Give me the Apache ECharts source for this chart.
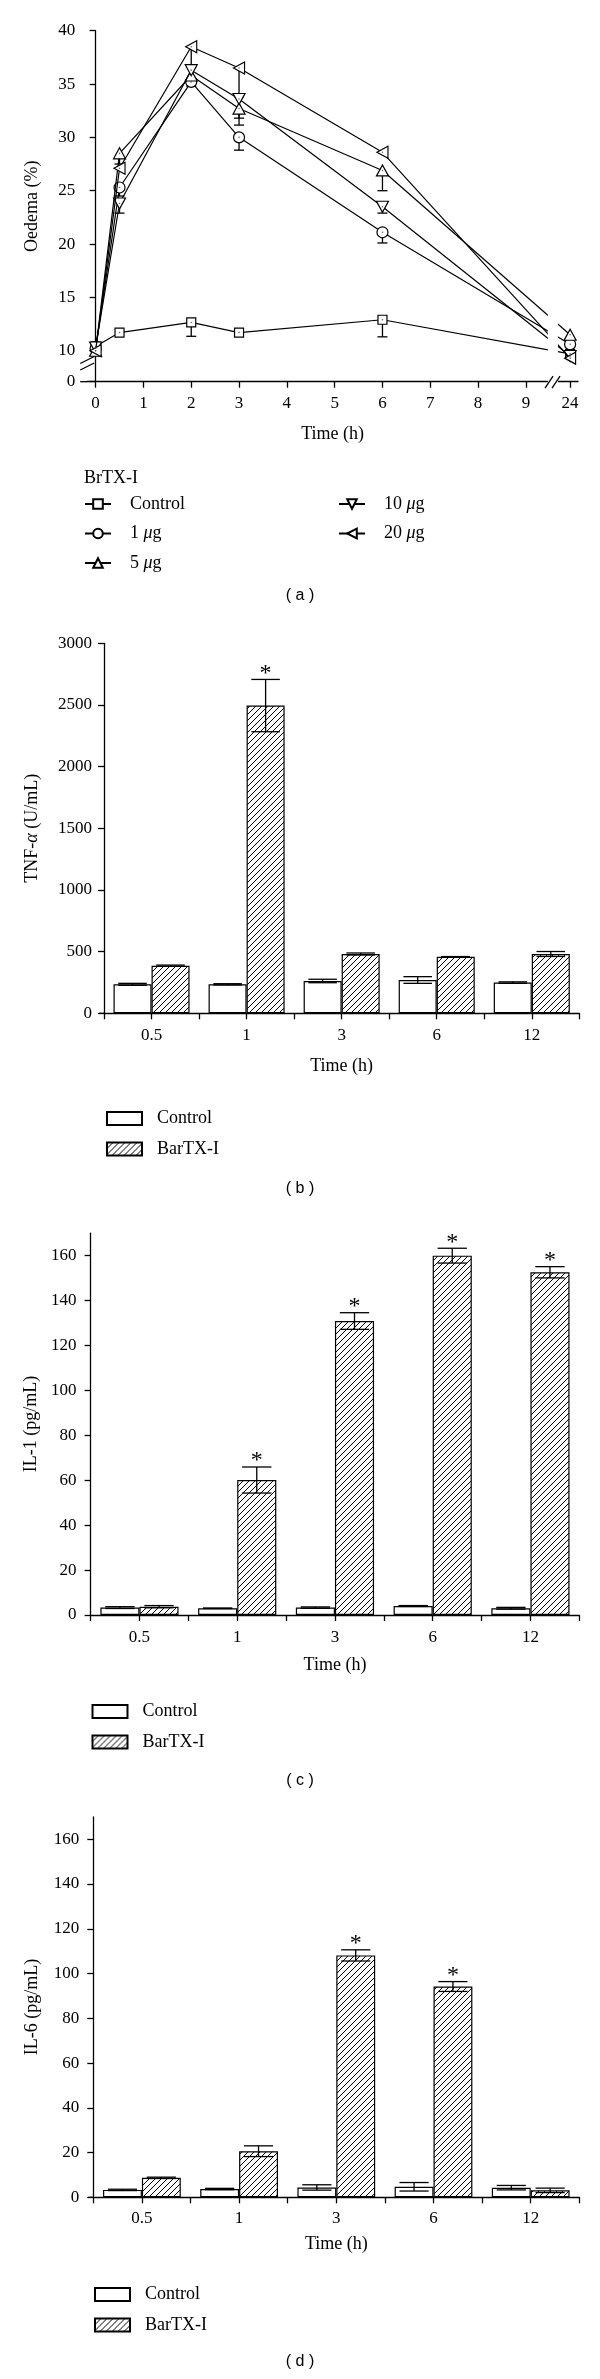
<!DOCTYPE html>
<html><head><meta charset="utf-8">
<script src="https://cdn.jsdelivr.net/npm/echarts@6.0.0/dist/echarts.min.js"></script>
<style>
html,body{margin:0;padding:0;background:#fff;}
.p{position:absolute;left:0;width:600px;}
</style></head>
<body>
<div id="a" class="p" style="top:0;height:620px"></div>
<div id="b" class="p" style="top:620px;height:600px"></div>
<div id="c" class="p" style="top:1220px;height:580px"></div>
<div id="d" class="p" style="top:1800px;height:579px"></div>
<script>
// ---------------- DATA ----------------
// Panel (a): oedema (%) over time
const oedemaHours = [0, 0.5, 2, 3, 6, 24];
const oedemaTickHours = [0, 1, 2, 3, 4, 5, 6, 7, 8, 9, 24];
const oedemaYTicks = [0, 10, 15, 20, 25, 30, 35, 40];
const oedemaNames = ['Control', '1 μg', '5 μg', '10 μg', '20 μg'];
const oedemaControl = [10.4, 11.7, 12.65, 11.7, 12.9, 9.7];
const oedema1ug     = [10.2, 25.3, 35.2, 30.0, 21.1, 10.6];
const oedema5ug     = [10.0, 28.5, 35.8, 32.7, 26.9, 11.5];
const oedema10ug    = [10.3, 23.8, 36.3, 33.6, 23.5, 9.5];
const oedema20ug    = [10.0, 27.1, 38.5, 36.5, 28.6, 9.3];
// one-sided SEM (negative = drawn downward)
const errControl = [0, 0, -1.3, 0, -1.6, 0];
const err1ug     = [0, -0.8, -0.4, -1.2, -1.0, 0];
const err5ug     = [0, -1.0, 0, -1.55, -1.9, 0];
const err10ug    = [0, -0.9, 0, -1.8, -0.6, 0];
const err20ug    = [0, 0, -1.9, -2.7, 0, 0];

// Panels (b)-(d): cytokines
const cytokineTimes = ['0.5', '1', '3', '6', '12'];
const tnfTicks = [0, 500, 1000, 1500, 2000, 2500, 3000];
const tnfControl = [235, 235, 262, 270, 249];
const tnfControlErr = [8, 5, 14, 27, 6];
const tnfBarTX = [386, 2495, 481, 459, 481];
const tnfBarTXErr = [5, 212, 8, 1, 20];
const tnfSig = [0, 1, 0, 0, 0];

const ilTicks = [0, 20, 40, 60, 80, 100, 120, 140, 160];
const il1Control = [3.3, 3.0, 3.3, 4.0, 3.0];
const il1ControlErr = [0.4, 0.1, 0.3, 0.2, 0.4];
const il1BarTX = [3.7, 60.1, 130.9, 160.0, 152.6];
const il1BarTXErr = [0.5, 5.8, 3.7, 3.3, 2.5];
const il1Sig = [0, 1, 1, 1, 1];

const il6Control = [3.3, 3.7, 4.4, 4.7, 4.3];
const il6ControlErr = [0.3, 0.3, 1.2, 1.9, 1.0];
const il6BarTX = [8.7, 20.6, 108.1, 94.2, 3.1];
const il6BarTXErr = [0.3, 2.4, 2.5, 2.2, 1.0];
const il6Sig = [0, 0, 1, 1, 0];

// ---------------- STYLE ----------------
const SERIF = '"Liberation Serif", "Times New Roman", serif';
const SANS = '"Liberation Sans", Arial, sans-serif';
const LW = 1.3;
const axisLine = {show: true, lineStyle: {color: '#000', width: LW}};
const axisTickStyle = {color: '#000', width: LW};
const TICK_FS = 17, NAME_FS = 18, LEG_FS = 18;

// broken time axis: 24 h drawn just after 9 h
const POS_24 = 9.925;
function timePos(h) { return h > 9.5 ? POS_24 : h; }
// broken oedema axis: 0 drawn just below 10
const POS_Y0 = 7.094;
function oedemaPos(v) { return v < 5 ? POS_Y0 : v; }

function muFormatter(name) {
  const m = name.match(/^(\d+) μg$/);
  return m ? m[1] + ' {i|μ}g' : name;
}

// ---------------- PANEL A ----------------
const chartA = echarts.init(document.getElementById('a'));
const oedemaValues = [oedemaControl, oedema1ug, oedema5ug, oedema10ug, oedema20ug];
const oedemaErrs = [errControl, err1ug, err5ug, err10ug, err20ug];
const oedemaSymbols = [
  {symbol: 'rect', size: [9, 9]},
  {symbol: 'circle', size: 11},
  {symbol: 'triangle', size: [12, 11]},
  {symbol: 'path://M0,0 L10,0 L5,9 Z', size: [12, 11]},
  {symbol: 'path://M9,0 L9,10 L0,5 Z', size: [11, 12]}
];
const seriesA = [];
oedemaNames.forEach((name, k) => {
  seriesA.push({
    name: name, type: 'line',
    data: oedemaHours.map((h, i) => [timePos(h), oedemaValues[k][i]]),
    symbol: oedemaSymbols[k].symbol, symbolSize: oedemaSymbols[k].size,
    showAllSymbol: true,
    itemStyle: {color: '#fff', borderColor: '#000', borderWidth: 1.2},
    lineStyle: {color: '#000', width: 1.2},
    z: 3 + k, clip: false
  });
});
oedemaNames.forEach((name, k) => {
  seriesA.push({
    type: 'custom', coordinateSystem: 'cartesian2d', z: 1, silent: true,
    data: oedemaHours.map((h, i) => [timePos(h), oedemaValues[k][i], oedemaErrs[k][i]]),
    encode: {x: 0, y: 1},
    renderItem: function (params, api) {
      const e = api.value(2);
      if (!e) return null;
      const p0 = api.coord([api.value(0), api.value(1)]);
      const p1 = api.coord([api.value(0), api.value(1) + e]);
      const st = {stroke: '#000', lineWidth: LW};
      return {type: 'group', children: [
        {type: 'line', shape: {x1: p0[0], y1: p0[1], x2: p1[0], y2: p1[1]}, style: st},
        {type: 'line', shape: {x1: p1[0] - 5, y1: p1[1], x2: p1[0] + 5, y2: p1[1]}, style: st}
      ]};
    }
  });
});
seriesA.push({
  type: 'scatter', silent: true, z: 20, symbolSize: 1.6,
  itemStyle: {color: '#444'},
  data: oedemaValues.flatMap(vals => oedemaHours.map((h, i) => [timePos(h), vals[i]]))
});

const legendText = {color: '#000', fontFamily: SERIF, fontSize: LEG_FS, lineHeight: 14, padding: [0, 0, 0, 14],
  rich: {i: {fontStyle: 'italic', fontFamily: SERIF, fontSize: LEG_FS, lineHeight: 14, color: '#000'}}};

chartA.setOption({
  animation: false,
  grid: {left: 87.2, right: 22, top: 30.7, bottom: 620 - 381.7},
  xAxis: {
    type: 'value', min: -0.176, max: 10.09,
    axisLine: axisLine, splitLine: {show: false},
    axisTick: {show: true, length: 6, lineStyle: axisTickStyle, customValues: oedemaTickHours.map(timePos)},
    axisLabel: {color: '#000', fontFamily: SERIF, fontSize: TICK_FS, margin: 13,
      customValues: oedemaTickHours.map(timePos),
      formatter: v => String(oedemaTickHours[oedemaTickHours.map(timePos).findIndex(p => Math.abs(p - v) < 1e-6)])},
    name: 'Time (h)', nameLocation: 'middle', nameGap: 44,
    nameTextStyle: {color: '#000', fontFamily: SERIF, fontSize: NAME_FS}
  },
  yAxis: {
    type: 'value', min: POS_Y0, max: 40,
    axisLine: axisLine, splitLine: {show: false},
    axisTick: {show: true, length: 6, lineStyle: axisTickStyle, customValues: oedemaYTicks.map(oedemaPos)},
    axisLabel: {color: '#000', fontFamily: SERIF, fontSize: TICK_FS, margin: 12,
      customValues: oedemaYTicks.map(oedemaPos),
      formatter: v => String(oedemaYTicks[oedemaYTicks.map(oedemaPos).findIndex(p => Math.abs(p - v) < 1e-6)])},
    name: 'Oedema (%)', nameLocation: 'middle', nameGap: 46,
    nameTextStyle: {color: '#000', fontFamily: SERIF, fontSize: NAME_FS}
  },
  legend: [
    {data: oedemaNames.slice(0, 3), orient: 'vertical', left: 84, top: 495, padding: 0,
      itemWidth: 26, itemHeight: 12, itemGap: 11.5, formatter: muFormatter, textStyle: legendText, selectedMode: false},
    {data: oedemaNames.slice(3), orient: 'vertical', left: 338, top: 495, padding: 0,
      itemWidth: 26, itemHeight: 12, itemGap: 11.5, formatter: muFormatter, textStyle: legendText, selectedMode: false}
  ],
  series: seriesA
});

(function () {
  const px = (x, y) => chartA.convertToPixel({gridIndex: 0}, [x, y]);
  const axisY = px(0, POS_Y0)[1];
  const topY = px(0, 40)[1];
  const gx0 = px(9.46, 20)[0], gx1 = px(9.67, 20)[0];
  const s1 = px(9.40, 20)[0];
  const ax = px(-0.176, 20)[0];
  const yb = px(0, 8.85)[1];
  const st = {stroke: '#000', lineWidth: LW};
  chartA.setOption({graphic: [
    {type: 'line', z: 99, shape: {x1: ax - 7, y1: axisY, x2: ax, y2: axisY}, style: st},
    {type: 'rect', z: 100, shape: {x: gx0, y: topY - 10, width: gx1 - gx0, height: axisY - topY + 12}, style: {fill: '#fff'}},
    {type: 'line', z: 101, shape: {x1: s1, y1: axisY + 6.5, x2: s1 + 8, y2: axisY - 5.5}, style: st},
    {type: 'line', z: 101, shape: {x1: s1 + 7, y1: axisY + 6.5, x2: s1 + 15, y2: axisY - 5.5}, style: st},
    {type: 'rect', z: 100, shape: {x: ax - 3, y: yb - 3, width: 6, height: 6.5}, style: {fill: '#fff'}},
    {type: 'line', z: 101, shape: {x1: ax - 7, y1: yb + 0.5, x2: ax + 7, y2: yb - 6.5}, style: st},
    {type: 'line', z: 101, shape: {x1: ax - 7, y1: yb + 7, x2: ax + 7, y2: yb}, style: st},
    {type: 'text', z: 101, left: 84, top: 469, style: {text: 'BrTX-I', fill: '#000', font: LEG_FS + 'px ' + SERIF}},
    {type: 'text', z: 101, left: 'center', top: 588, style: {text: '( a )', fill: '#000', font: '16px ' + SANS}}
  ]});
})();

// ---------------- BAR PANELS ----------------
function makeHatch() {
  const c = document.createElement('canvas');
  c.width = 6; c.height = 6;
  const g = c.getContext('2d');
  g.fillStyle = '#fff'; g.fillRect(0, 0, 6, 6);
  g.strokeStyle = '#000'; g.lineWidth = 1;
  g.beginPath();
  g.moveTo(0, 6); g.lineTo(6, 0);
  g.moveTo(-3, 3); g.lineTo(3, -3);
  g.moveTo(3, 9); g.lineTo(9, 3);
  g.stroke();
  return c;
}
const hatch = makeHatch();

function barPanel(id, cfg) {
  const chart = echarts.init(document.getElementById(id));
  const errData = [];
  cfg.control.forEach((v, i) => errData.push([i, v, cfg.controlErr[i], -1, 0]));
  cfg.bartx.forEach((v, i) => errData.push([i, v, cfg.bartxErr[i], 1, cfg.sig[i]]));
  const labelFmt = {color: '#000', fontFamily: SERIF, fontSize: TICK_FS};
  chart.setOption({
    animation: false,
    grid: cfg.grid,
    xAxis: [
      {type: 'category', data: cytokineTimes, axisLine: axisLine,
        axisTick: {show: true, interval: 0, length: 6, lineStyle: axisTickStyle},
        axisLabel: Object.assign({margin: cfg.xMargin, interval: 0}, labelFmt),
        name: 'Time (h)', nameLocation: 'middle', nameGap: cfg.xNameGap,
        nameTextStyle: {color: '#000', fontFamily: SERIF, fontSize: NAME_FS}},
      {type: 'category', data: cytokineTimes, position: 'bottom', axisLine: {show: false},
        axisTick: {show: true, alignWithLabel: true, interval: 0, length: 6, lineStyle: axisTickStyle},
        axisLabel: {show: false}}
    ],
    yAxis: {
      type: 'value', min: 0, max: cfg.max,
      axisLine: axisLine, splitLine: {show: false},
      axisTick: {show: true, length: 6, lineStyle: axisTickStyle, customValues: cfg.ticks},
      axisLabel: Object.assign({margin: cfg.yMargin, customValues: cfg.ticks, formatter: v => String(v)}, labelFmt),
      name: cfg.yName, nameLocation: 'middle', nameGap: cfg.yNameGap,
      nameTextStyle: {color: '#000', fontFamily: SERIF, fontSize: NAME_FS,
        rich: {i: {fontStyle: 'italic', fontFamily: SERIF, fontSize: NAME_FS, color: '#000'}}}
    },
    legend: {
      data: ['Control', 'BarTX-I'], orient: 'vertical', left: cfg.legendLeft, top: cfg.legendTop, padding: 0,
      itemWidth: 35, itemHeight: 13, itemGap: 12.5, icon: 'rect', selectedMode: false,
      textStyle: {color: '#000', fontFamily: SERIF, fontSize: LEG_FS, lineHeight: 14, padding: [0, 0, 0, 10]}
    },
    series: [
      {name: 'Control', type: 'bar', data: cfg.control, barGap: '0%', barCategoryGap: '20%',
        itemStyle: {color: '#fff', borderColor: '#000', borderWidth: 1.2}},
      {name: 'BarTX-I', type: 'bar', data: cfg.bartx, barGap: '0%', barCategoryGap: '20%',
        itemStyle: {color: {image: hatch, repeat: 'repeat'}, borderColor: '#000', borderWidth: 1.2}},
      {type: 'custom', z: 5, silent: true, data: errData, encode: {x: 0, y: 1},
        renderItem: function (params, api) {
          const cat = api.value(0), val = api.value(1), err = api.value(2), side = api.value(3), sig = api.value(4);
          const c = api.coord([cat, val]);
          const bw = api.size([1, 0])[0];
          const x = c[0] + side * bw * 0.2;
          const yT = api.coord([cat, val + err])[1];
          const yB = api.coord([cat, val - err])[1];
          const cw = bw * 0.3;
          const st = {stroke: '#000', lineWidth: LW};
          const ch = [
            {type: 'line', shape: {x1: x, y1: yT, x2: x, y2: yB}, style: st},
            {type: 'line', shape: {x1: x - cw / 2, y1: yT, x2: x + cw / 2, y2: yT}, style: st},
            {type: 'line', shape: {x1: x - cw / 2, y1: yB, x2: x + cw / 2, y2: yB}, style: st}
          ];
          if (sig) ch.push({type: 'text', style: {text: '*', x: x, y: yT - 6, align: 'center',
            verticalAlign: 'middle', fontSize: 24, fontFamily: SERIF, fill: '#000'}});
          return {type: 'group', children: ch};
        }}
    ],
    graphic: [
      {type: 'text', left: 'center', top: cfg.tagTop,
        style: {text: cfg.tag, fill: '#000', font: '16px ' + SANS}},
      {type: 'line', z: 99, shape: {x1: cfg.grid.left - cfg.axisExt, y1: cfg.height - cfg.grid.bottom,
        x2: cfg.grid.left, y2: cfg.height - cfg.grid.bottom}, style: {stroke: '#000', lineWidth: LW}}
    ]
  });
}

barPanel('b', {
  height: 600, grid: {left: 104, right: 20.7, top: 23.3, bottom: 600 - 393.3}, axisExt: 5,
  max: 3000, ticks: tnfTicks, yName: 'TNF-{i|α} (U/mL)', yNameGap: 63, yMargin: 12,
  xMargin: 14, xNameGap: 44,
  control: tnfControl, controlErr: tnfControlErr, bartx: tnfBarTX, bartxErr: tnfBarTXErr, sig: tnfSig,
  legendLeft: 106, legendTop: 489.5, tag: '( b )', tagTop: 561
});
barPanel('c', {
  height: 580, grid: {left: 90.6, right: 20.7, top: 13.2, bottom: 580 - 395}, axisExt: 0,
  max: 170, ticks: ilTicks, yName: 'IL-1 (pg/mL)', yNameGap: 50, yMargin: 14,
  xMargin: 14, xNameGap: 41,
  control: il1Control, controlErr: il1ControlErr, bartx: il1BarTX, bartxErr: il1BarTXErr, sig: il1Sig,
  legendLeft: 91.5, legendTop: 482.5, tag: '( c )', tagTop: 553
});
barPanel('d', {
  height: 579, grid: {left: 93.3, right: 20.7, top: 16.9, bottom: 579 - 397.3}, axisExt: 5,
  max: 170, ticks: ilTicks, yName: 'IL-6 (pg/mL)', yNameGap: 52, yMargin: 14,
  xMargin: 12.5, xNameGap: 38,
  control: il6Control, controlErr: il6ControlErr, bartx: il6BarTX, bartxErr: il6BarTXErr, sig: il6Sig,
  legendLeft: 94, legendTop: 485.5, tag: '( d )', tagTop: 554
});
</script>
</body></html>
